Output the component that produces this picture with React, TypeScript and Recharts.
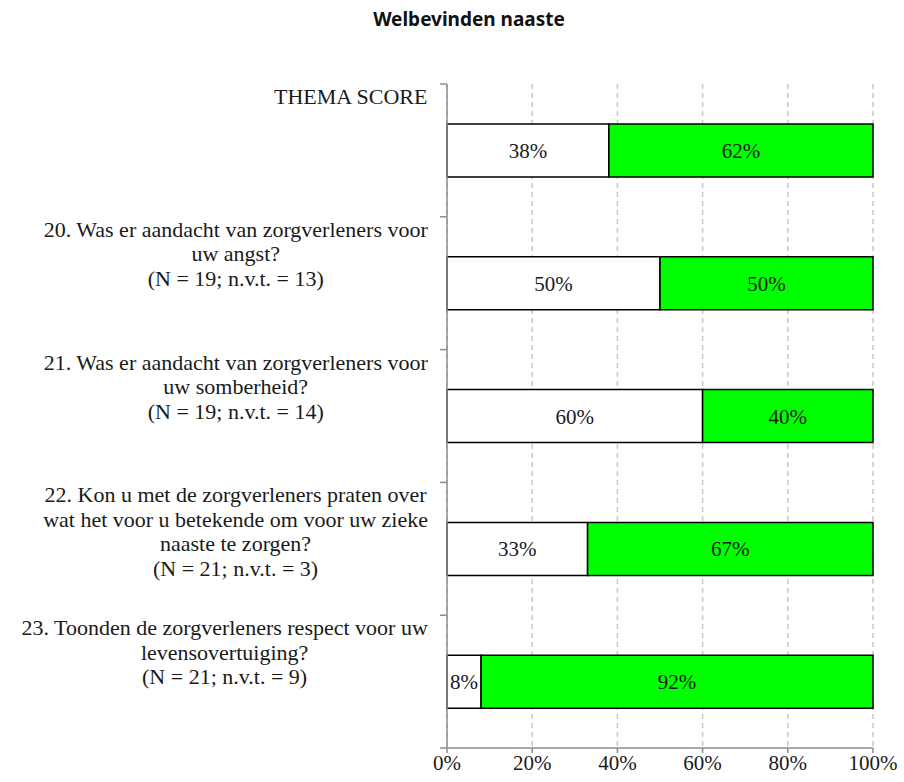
import { Bar, BarChart, CartesianGrid, LabelList, XAxis, YAxis } from "recharts";

const questions = [
  "THEMA SCORE",
  "20. Was er aandacht van zorgverleners voor\nuw angst?\n(N = 19; n.v.t. = 13)",
  "21. Was er aandacht van zorgverleners voor\nuw somberheid?\n(N = 19; n.v.t. = 14)",
  "22. Kon u met de zorgverleners praten over\nwat het voor u betekende om voor uw zieke\nnaaste te zorgen?\n(N = 21; n.v.t. = 3)",
  "23. Toonden de zorgverleners respect voor uw\nlevensovertuiging?\n(N = 21; n.v.t. = 9)"
];
const negative = [38, 50, 60, 33, 8];
const positive = [62, 50, 40, 67, 92];
const xTicks = [0, 20, 40, 60, 80, 100];

const data = questions.map((q, i) => ({ name: q, neg: negative[i], pos: positive[i] }));

const W = 904;
const H = 782;
const TOP = 84;
const BOTTOM = 748;
const AXIS_X = 447;
const LABEL_RIGHT = 428;
const BAND = (BOTTOM - TOP) / questions.length;
const SERIF = "'Liberation Serif', serif";
const FONT_SIZE = 21;
const LABEL_SIZE = 22;
const LINE_H = 24.5;

const canvas = typeof document !== "undefined" ? document.createElement("canvas") : null;
const measure = (s: string) => {
  const ctx = canvas?.getContext("2d");
  if (!ctx) return s.length * 9;
  ctx.font = `${LABEL_SIZE}px ${SERIF}`;
  return ctx.measureText(s).width;
};

// category label sits at the top of its band, lines centred on the widest one
const QuestionTick = (props: any) => {
  const { y, payload, index } = props;
  const lines: string[] = String(payload.value).split("\n");
  const widest = Math.max(...lines.map(measure));
  const cx = LABEL_RIGHT - widest / 2;
  const top = y - BAND / 2;
  return (
    <g>
      <line x1={AXIS_X - 7} x2={AXIS_X} y1={top} y2={top} stroke="#8c8c8c" strokeWidth={1.5} />
      {index === questions.length - 1 && (
        <line x1={AXIS_X - 7} x2={AXIS_X} y1={top + BAND} y2={top + BAND} stroke="#8c8c8c" strokeWidth={1.5} />
      )}
      <text x={cx} y={top + 20} textAnchor="middle" fontFamily={SERIF} fontSize={LABEL_SIZE} fill="#1a1a1a">
        {lines.map((l, i) => (
          <tspan key={i} x={cx} y={top + 20 + i * LINE_H}>
            {l}
          </tspan>
        ))}
      </text>
    </g>
  );
};

const pct = (v: any) => `${v}%`;

export default function App() {
  return (
    <div style={{ position: "absolute", left: 0, top: 0, width: W, height: H, background: "#fff" }}>
      <div
        style={{
          position: "absolute",
          left: 0,
          width: 938,
          top: 7,
          textAlign: "center",
          fontFamily: "'Noto Sans', sans-serif",
          fontWeight: 700,
          fontSize: 19,
          lineHeight: "24px",
          color: "#111"
        }}
      >
        Welbevinden naaste
      </div>
      <BarChart
        width={W}
        height={H}
        data={data}
        layout="vertical"
        barSize={53}
        margin={{ top: TOP, right: W - 873, bottom: H - BOTTOM - 30, left: AXIS_X - 440 }}
      >
        <CartesianGrid horizontal={false} stroke="#c8c8c8" strokeDasharray="5 4" strokeWidth={1.5} />
        <XAxis
          type="number"
          domain={[0, 100]}
          ticks={xTicks}
          tickFormatter={pct}
          height={30}
          stroke="#8c8c8c"
          strokeWidth={1.5}
          tickSize={5}
          tick={{ fontFamily: SERIF, fontSize: FONT_SIZE, fill: "#1a1a1a" }}
        />
        <YAxis
          type="category"
          dataKey="name"
          width={440}
          tickLine={false}
          stroke="#8c8c8c"
          strokeWidth={1.5}
          tick={<QuestionTick />}
          interval={0}
        />
        <Bar dataKey="neg" stackId="a" fill="#ffffff" stroke="#000" strokeWidth={1.5} isAnimationActive={false}>
          <LabelList dataKey="neg" position="center" formatter={pct} fontFamily={SERIF} fontSize={FONT_SIZE} fill="#1a1a1a" />
        </Bar>
        <Bar dataKey="pos" stackId="a" fill="#00ff00" stroke="#000" strokeWidth={1.5} isAnimationActive={false}>
          <LabelList dataKey="pos" position="center" formatter={pct} fontFamily={SERIF} fontSize={FONT_SIZE} fill="#1a1a1a" />
        </Bar>
      </BarChart>
    </div>
  );
}
